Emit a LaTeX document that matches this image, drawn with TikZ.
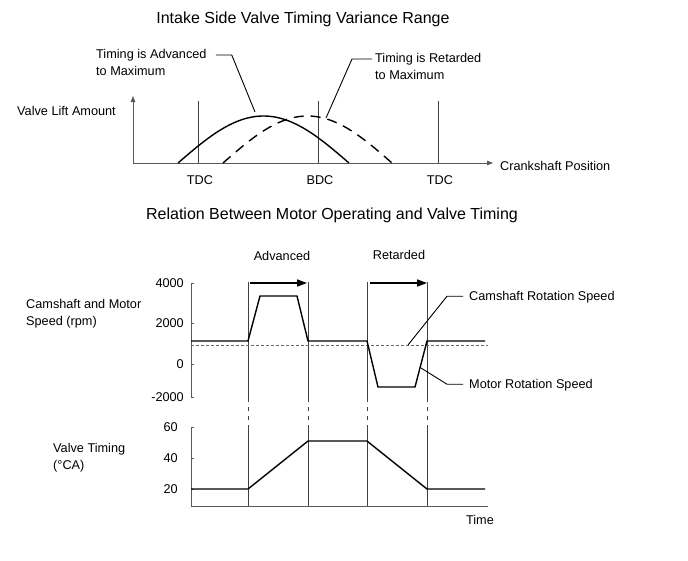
\documentclass[tikz,border=0pt]{standalone}
\usepackage{fontspec}
\setmainfont{Liberation Sans}
\usetikzlibrary{arrows.meta}
\tikzset{
  txt/.style={inner sep=0pt, font=\fontsize{12.7}{16.5}\selectfont, align=left},
  titletxt/.style={inner sep=0pt, font=\fontsize{16}{19}\selectfont},
  axisline/.style={line width=0.9pt, draw=black!65},
  guide/.style={line width=0.9pt, draw=black!75},
  curve/.style={line width=1.4pt},
  leader/.style={line width=0.9pt},
  axisarrow/.style={-{Triangle[length=6pt,width=4.5pt]}},
  bigarrow/.style={line width=1.6pt, -{Triangle[length=10pt,width=7pt]}},
}
\begin{document}
\begin{tikzpicture}[x=1pt, y=-1pt]
    \useasboundingbox (0,0) rectangle (688,560);

    % valve lift diagram
    \node[titletxt, anchor=base] (title1) at (303,23.7) {Intake Side Valve Timing Variance Range};
    \draw[axisline, axisarrow] (133,163) -- (133,96);
    \draw[axisline, axisarrow] (133,163) -- (493,163);
    \node[txt, anchor=base west] (lift) at (17,115.5) {Valve Lift Amount};
    \node[txt, anchor=base west] (crank) at (500,170.5) {Crankshaft Position};
    \foreach \x/\t in {198/TDC, 318/BDC, 438/TDC} {
        \draw[guide] (\x,163) -- (\x,101);
        \node[txt, anchor=base] (dc\x) at (\x+2,184.5) {\t};
    }
    \draw[curve] plot[domain=0:1, samples=60] (178+171*\x, {163-47*sin(180*\x)});
    \draw[curve, dash pattern=on 10pt off 7pt] plot[domain=0:1, samples=60] (223+169*\x, {163-47*sin(180*\x)});
    \node[txt, anchor=north west] (adv) at (96,49.5) {Timing is Advanced\\to Maximum};
    \node[txt, anchor=north west] (ret) at (375,53.5) {Timing is Retarded\\to Maximum};
    \coordinate (advpt) at (255,112);
    \coordinate (retpt) at (326,118);
    \draw[leader] (adv.north east) ++(9,5.5) -- ++(16,0) -- (advpt);
    \draw[leader] (ret.north west) ++(-3,5.5) -- ++(-20,0) -- (retpt);

    % motor operating and valve timing
    \node[titletxt, anchor=base] (title2) at (332,219.7) {Relation Between Motor Operating and Valve Timing};
    \node[txt, anchor=base] (advlbl) at (282,260.5) {Advanced};
    \node[txt, anchor=base] (retlbl) at (399,259.5) {Retarded};
    \foreach \x in {248,308,367,427} {
        \draw[guide] (\x,282) -- (\x,398);
        \draw[guide, dash pattern=on 4pt off 5pt] (\x,398) -- (\x,428);
        \draw[guide] (\x,428) -- (\x,506);
    }
    \draw[bigarrow] (250,283) -- (307,283);
    \draw[bigarrow] (370,283) -- (427,283);

    \node[txt, anchor=north west] (speed) at (26,299.5) {Camshaft and Motor\\Speed (rpm)};
    \draw[axisline] (194,283) -- (191,283) -- (191,397) -- (194,397);
    \foreach \y/\v in {283/4000, 323/2000, 364/0, 397/-2000} {
        \draw[axisline] (191,\y) -- (194,\y);
        \node[txt, anchor=base east] (sp\y) at (184,\y+4.5) {\v};
    }
    \draw[line width=0.9pt, black!60, dash pattern=on 3pt off 2pt] (191,345) -- (488,345);
    \draw[curve] (191,341) -- (248,341) -- (260,296) -- (297,296) -- (308,341)
        -- (367,341) -- (378,387) -- (415,387) -- (427,341) -- (485,341);
    \node[txt, anchor=base west] (cam) at (469,300.5) {Camshaft Rotation Speed};
    \node[txt, anchor=base west] (motor) at (469,388.5) {Motor Rotation Speed};
    \coordinate (campt) at (408,345);
    \coordinate (motpt) at (421,368);
    \draw[leader] (cam.west) ++(-6,-1) -- ++(-16,0) -- (campt);
    \draw[leader] (motor.west) ++(-6,-1) -- ++(-16,0) -- (motpt);

    \node[txt, anchor=north west] (vt) at (53,443.5) {Valve Timing\\(°CA)};
    \draw[axisline] (194,427) -- (191,427) -- (191,506) -- (488,506);
    \foreach \y/\v in {427/60, 458/40, 489/20} {
        \draw[axisline] (191,\y) -- (194,\y);
        \node[txt, anchor=base east] (vt\y) at (178,\y+4.5) {\v};
    }
    \draw[curve] (191,489) -- (248,489) -- (308,441) -- (367,441) -- (427,489) -- (485,489);
    \node[txt, anchor=base] (time) at (480,524.5) {Time};
\end{tikzpicture}
\end{document}
